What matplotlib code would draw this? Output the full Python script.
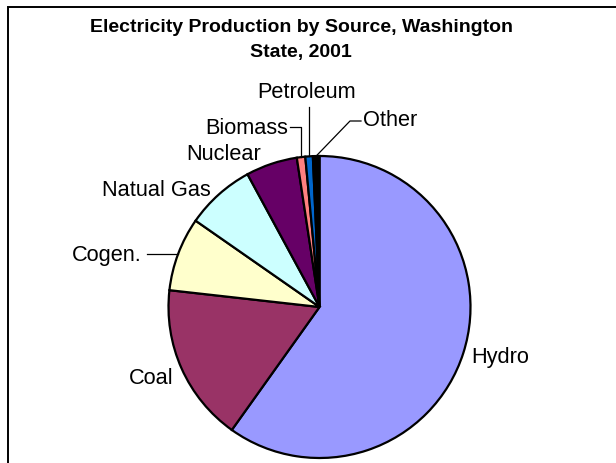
import numpy as np
import matplotlib
matplotlib.use("Agg")
import matplotlib.pyplot as plt
from matplotlib.patches import Rectangle

plt.rcParams['font.family'] = ['Liberation Sans', 'DejaVu Sans']

# ---- data ----
sources = ["Hydro", "Coal", "Cogen.", "Natual Gas", "Nuclear", "Biomass", "Petroleum", "Other"]
shares = [59.8, 16.9, 7.9, 7.4, 5.5, 0.9, 0.8, 0.7]
colors = ["#9999FF", "#993366", "#FFFFCC", "#CCFFFF", "#660066", "#FF8080", "#0066CC", "#000000"]
title_lines = ["Electricity Production by Source, Washington", "State, 2001"]

W, H = 616, 464
fig = plt.figure(figsize=(W / 100, H / 100), dpi=100)
ax = fig.add_axes([0, 0, 1, 1])

cx, cy, R = 319.5, 308, 151  # pixel space


def P(x, y):
    return x, H - y


wedges, _ = ax.pie(shares, colors=colors, startangle=90, counterclock=False,
                   center=P(cx, cy), radius=R,
                   wedgeprops=dict(edgecolor="black", linewidth=1.6))
ax.set_xlim(0, W)
ax.set_ylim(0, H)
ax.set_aspect("equal")
ax.axis("off")


def edge_point(w):
    mid = np.deg2rad((w.theta1 + w.theta2) / 2)
    x = w.center[0] + w.r * np.cos(mid)
    y = w.center[1] + w.r * np.sin(mid)
    return x, y


fs = 15.7
# labels: (text x, text y in pixel coords, ha)
label_pos = {
    "Hydro": (471, 358, "left"),
    "Coal": (173, 379, "right"),
    "Cogen.": (142, 255, "right"),
    "Natual Gas": (211, 190, "right"),
    "Nuclear": (186, 155, "left"),
    "Biomass": (288, 128, "right"),
    "Petroleum": (307, 93, "center"),
    "Other": (363, 121, "left"),
}
for name, w in zip(sources, wedges):
    x, y, ha = label_pos[name]
    ax.text(*P(x, y), name, ha=ha, va="center", fontsize=fs, color="black")

lk = dict(color="black", lw=0.9)
# leader lines
ex, ey = edge_point(wedges[sources.index("Cogen.")])
ax.plot([147, ex], [ey, ey], **lk)
ex, ey = edge_point(wedges[sources.index("Biomass")])
ax.plot([290, ex, ex], [H - 128, H - 128, ey], **lk)
ex, ey = edge_point(wedges[sources.index("Petroleum")])
ax.plot([ex, ex], [H - 108, ey], **lk)
ex, ey = edge_point(wedges[sources.index("Other")])
ax.plot([361, 350, ex], [H - 122, H - 122, ey], **lk)

# title
fig.text(301 / W, 1 - 27 / H, title_lines[0],
         ha="center", va="center", fontsize=14, fontweight="bold")
fig.text(301 / W, 1 - 53 / H, title_lines[1],
         ha="center", va="center", fontsize=14, fontweight="bold")

# chart area frame
ax.add_patch(Rectangle(P(7.5, 470), 700, 462, fill=False, edgecolor="black",
                       lw=1.4, clip_on=False))

fig.savefig("out.png", dpi=100)
